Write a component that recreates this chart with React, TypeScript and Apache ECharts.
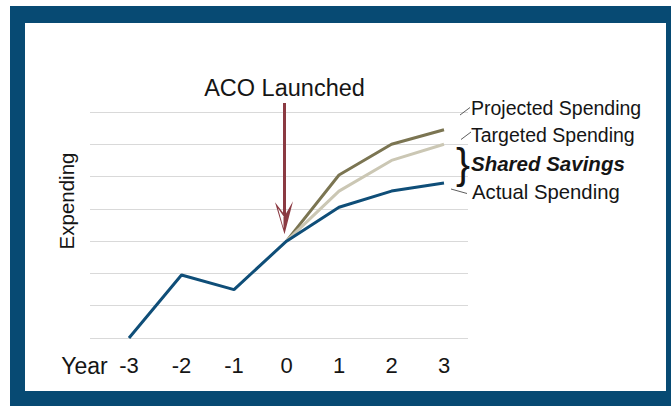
import React, { useEffect, useRef } from 'react';
import * as echarts from 'echarts';

const years = ['-3', '-2', '-1', '0', '1', '2', '3'];
const actualSpending = [0, 1.95, 1.5, 3, 4.05, 4.55, 4.8];
const targetedSpending = [null, null, null, 3, 4.55, 5.5, 6.0];
const projectedSpending = [null, null, null, 3, 5.05, 6.0, 6.45];
const yMin = 0;
const yMax = 7;
const yStep = 1;
const launchYearIndex = 3;
const launchLabel = 'ACO Launched';
const xAxisTitle = 'Year';
const yAxisTitle = 'Expending';
const seriesNames = ['Projected Spending', 'Targeted Spending', 'Actual Spending'];
const savingsLabel = 'Shared Savings';

const FONT = '"Liberation Sans", Arial, Helvetica, sans-serif';
const FRAME = '#074a73';
const ARROW = '#8b3a42';
const TEXT = '#151515';

export default function App() {
  const ref = useRef<HTMLDivElement>(null);
  useEffect(() => {
    if (!ref.current) return;
    const chart = echarts.init(ref.current, null, { renderer: 'svg', width: 671, height: 406 });
    const option: any = {
      animation: false,
      backgroundColor: '#ffffff',
      grid: [
        { left: 90, right: 203, top: 112, bottom: 68 },
        { left: 129, right: 227, top: 112, bottom: 68 },
      ],
      xAxis: [
        { type: 'value', gridIndex: 0, show: false, min: 0, max: 1 },
        {
          type: 'category',
          gridIndex: 1,
          data: years,
          boundaryGap: false,
          axisLine: { show: false },
          axisTick: { show: false },
          splitLine: { show: false },
          axisLabel: { color: TEXT, fontSize: 22, fontFamily: FONT, margin: 16 },
        },
      ],
      yAxis: [
        {
          type: 'value',
          gridIndex: 0,
          min: yMin,
          max: yMax,
          interval: yStep,
          axisLine: { show: false },
          axisTick: { show: false },
          axisLabel: { show: false },
          splitLine: { show: true, lineStyle: { color: '#d9d9d9', width: 1 } },
        },
        {
          type: 'value',
          gridIndex: 1,
          min: yMin,
          max: yMax,
          interval: yStep,
          show: false,
          splitLine: { show: false },
        },
      ],
      series: [
        {
          name: seriesNames[0],
          type: 'line',
          xAxisIndex: 1,
          yAxisIndex: 1,
          data: projectedSpending,
          symbol: 'none',
          lineStyle: { color: '#7b7552', width: 3 },
          itemStyle: { color: '#7b7552' },
          z: 2,
        },
        {
          name: seriesNames[1],
          type: 'line',
          xAxisIndex: 1,
          yAxisIndex: 1,
          data: targetedSpending,
          symbol: 'none',
          lineStyle: { color: '#cbc7b4', width: 3 },
          itemStyle: { color: '#cbc7b4' },
          z: 3,
        },
        {
          name: seriesNames[2],
          type: 'line',
          xAxisIndex: 1,
          yAxisIndex: 1,
          data: actualSpending,
          symbol: 'none',
          lineStyle: { color: '#0f4e78', width: 3 },
          itemStyle: { color: '#0f4e78' },
          z: 4,
        },
      ],
    };
    chart.setOption(option);

    const p = chart.convertToPixel({ xAxisIndex: 1, yAxisIndex: 1 } as any, [launchYearIndex, actualSpending[launchYearIndex]]) as number[];
    const tx = p[0] - 2;
    const ty = p[1] - 7;
    const txt = (t: string, x: number, y: number, extra: any = {}) => ({
      type: 'text',
      x,
      y,
      z: 10,
      style: {
        text: t,
        fill: TEXT,
        fontFamily: FONT,
        fontSize: 19.5,
        align: 'left',
        verticalAlign: 'middle',
        ...extra,
      },
    });
    chart.setOption({
      graphic: [
        { type: 'rect', z: -10, shape: { x: 10, y: 6, width: 661, height: 400 }, style: { fill: FRAME } },
        { type: 'rect', z: -9, shape: { x: 25, y: 23, width: 641, height: 368 }, style: { fill: '#ffffff' } },
        // arrow shaft
        { type: 'rect', z: 10, shape: { x: tx - 1.5, y: 103, width: 3, height: ty - 103 - 18 }, style: { fill: ARROW } },
        {
          type: 'polygon',
          z: 10,
          shape: { points: [[tx - 9.5, ty - 32], [tx, ty], [tx + 8.5, ty - 33], [tx + 0.5, ty - 19]] },
          style: { fill: ARROW },
        },
        {
          type: 'polygon',
          z: 11,
          shape: { points: [[tx - 6.5, ty - 26], [tx - 1, ty - 6], [tx - 1, ty - 18]] },
          style: { fill: '#ffffff' },
        },
        txt(launchLabel, tx, 88, { align: 'center', fontSize: 23.5 }),
        txt(xAxisTitle, 84.5, 366, { align: 'center', fontSize: 23 }),
        { ...txt(yAxisTitle, 66, 201, { align: 'center', fontSize: 20.5 }), rotation: Math.PI / 2 },
        txt(seriesNames[0], 471, 108),
        txt(seriesNames[1], 471, 134.5),
        txt(savingsLabel, 471, 163.5, { fontWeight: 'bold', fontStyle: 'italic', fontSize: 20.5 }),
        txt(seriesNames[2], 472, 192, { fontSize: 20.3 }),
        txt('}', 463, 163, { align: 'center', fontSize: 42 }),
        { type: 'line', z: 10, shape: { x1: 460, y1: 115, x2: 470, y2: 107.5 }, style: { stroke: '#333', lineWidth: 0.8 } },
        { type: 'line', z: 10, shape: { x1: 461, y1: 139.5, x2: 471, y2: 132 }, style: { stroke: '#333', lineWidth: 0.8 } },
        { type: 'line', z: 10, shape: { x1: 451, y1: 189, x2: 467, y2: 193.5 }, style: { stroke: '#333', lineWidth: 0.8 } },
      ],
    });
    return () => chart.dispose();
  }, []);
  return (
    <div
      ref={ref}
      style={{ position: 'fixed', left: 0, top: 0, width: 671, height: 406, background: '#fff' }}
    />
  );
}
